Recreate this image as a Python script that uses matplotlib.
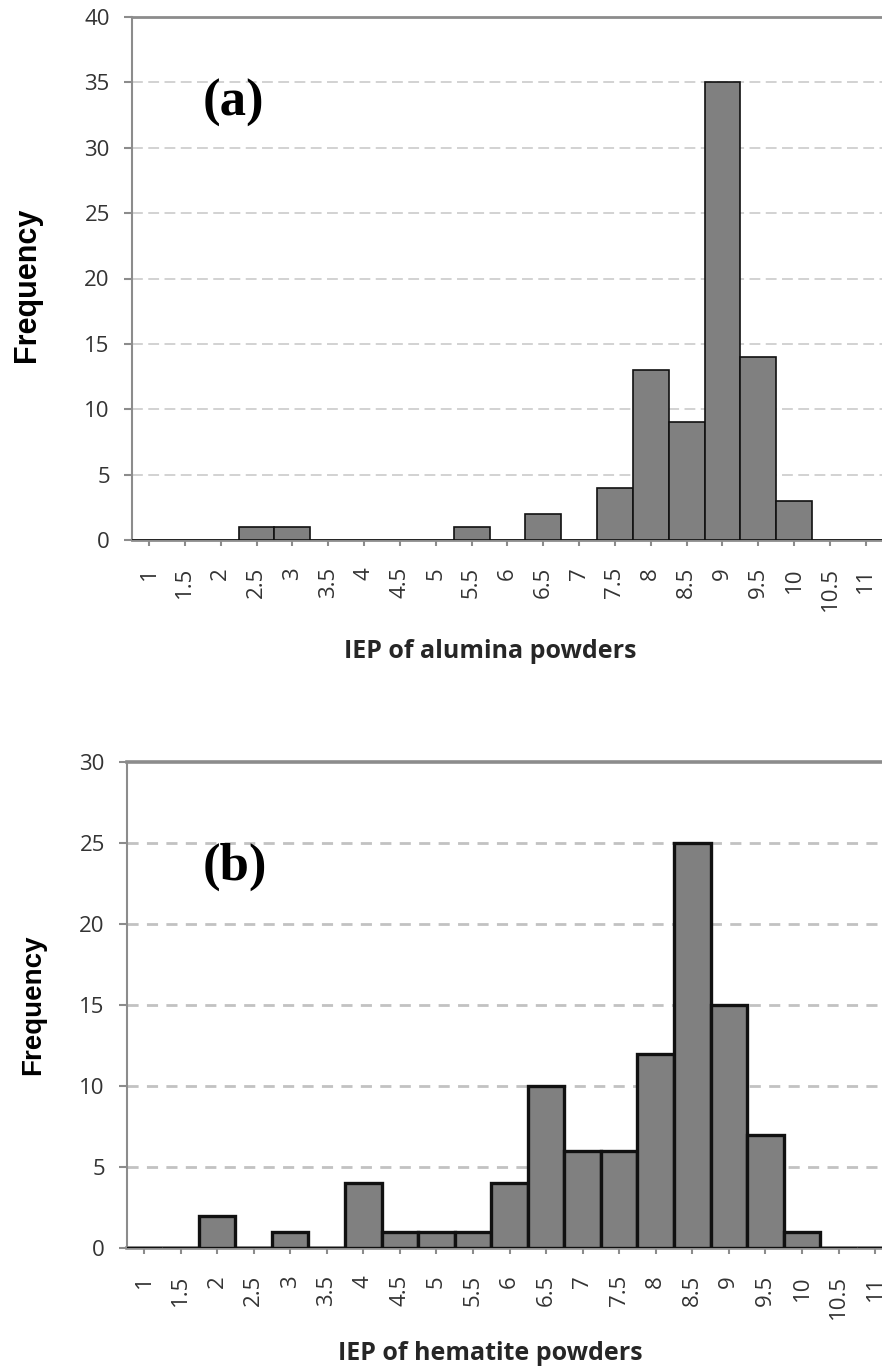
import matplotlib
matplotlib.use('Agg')
import matplotlib.pyplot as plt
import numpy as np

# categories (IEP bins)
categories = ['1', '1.5', '2', '2.5', '3', '3.5', '4', '4.5', '5', '5.5', '6',
              '6.5', '7', '7.5', '8', '8.5', '9', '9.5', '10', '10.5', '11']
alumina_freq = [0, 0, 0, 1, 1, 0, 0, 0, 0, 1, 0, 2, 0, 4, 13, 9, 35, 14, 3, 0, 0]
hematite_freq = [0, 0, 2, 0, 1, 0, 4, 1, 1, 1, 4, 10, 6, 6, 12, 25, 15, 7, 1, 0, 0]

W, H = 882, 1370
fig = plt.figure(figsize=(W / 100, H / 100), dpi=100)

x = np.arange(len(categories))


def panel(rect, values, ymax, xlim, edge_lw, spine_lw, grid_col, grid_lw, dash,
          tag, tag_xy, xlabel, xlabel_y, ylab_xy, ylab_size):
    ax = fig.add_axes(rect)
    ax.bar(x, values, width=1.0, color='#808080', edgecolor='#111111',
           linewidth=edge_lw, zorder=3)
    ax.set_xlim(*xlim)
    ax.set_ylim(0, ymax)
    ax.set_yticks(np.arange(0, ymax + 1, 5))
    ax.set_xticks(x)
    ax.set_xticklabels(categories, rotation=90, va='top', ha='center')
    for s in ['left', 'bottom', 'top']:
        ax.spines[s].set_color('#8c8c8c')
        ax.spines[s].set_linewidth(spine_lw)
    ax.spines['left'].set_linewidth(1.5)
    ax.spines['right'].set_visible(False)
    for yv in np.arange(5, ymax, 5):
        ax.axhline(yv, color=grid_col, lw=grid_lw, dashes=dash, zorder=1)
    for lab in ax.get_xticklabels() + ax.get_yticklabels():
        lab.set_fontfamily('Open Sans')
        lab.set_fontsize(16)
        lab.set_color('#333333')
    ax.tick_params(axis='x', length=4.5, width=1.5, color='#8c8c8c', pad=15)
    ax.tick_params(axis='y', length=6, width=1.5, color='#8c8c8c', pad=10)
    ax.text(tag_xy[0] / W, 1 - tag_xy[1] / H, tag, transform=fig.transFigure,
            fontfamily='Liberation Serif', fontweight='bold', fontsize=38,
            ha='center', va='center')
    fig.text(490 / W, 1 - xlabel_y / H, xlabel, fontfamily='Open Sans',
             fontweight='bold', fontsize=18, color='#262626',
             ha='center', va='center')
    fig.text(ylab_xy[0] / W, 1 - ylab_xy[1] / H, 'Frequency',
             fontfamily='Liberation Sans', fontweight='bold', fontsize=ylab_size,
             rotation=90, ha='center', va='center')
    return ax


# top panel (a)
panel([132 / W, 1 - 540 / H, 1 - 132 / W, (540 - 17) / H], alumina_freq, 40,
      (-0.474, 20.45), 1.2, 2.0, '#cfcfcf', 1.3, (6, 3),
      '(a)', (233, 103), 'IEP of alumina powders', 651, (27, 285), 22)

# bottom panel (b)
panel([127 / W, 1 - 1248 / H, 1 - 127 / W, (1248 - 762) / H], hematite_freq, 30,
      (-0.465, 20.19), 2.4, 2.6, '#c2c2c2', 2.0, (4, 3),
      '(b)', (235, 867), 'IEP of hematite powders', 1353, (33, 1005), 20)

fig.savefig('out.png', dpi=100)
